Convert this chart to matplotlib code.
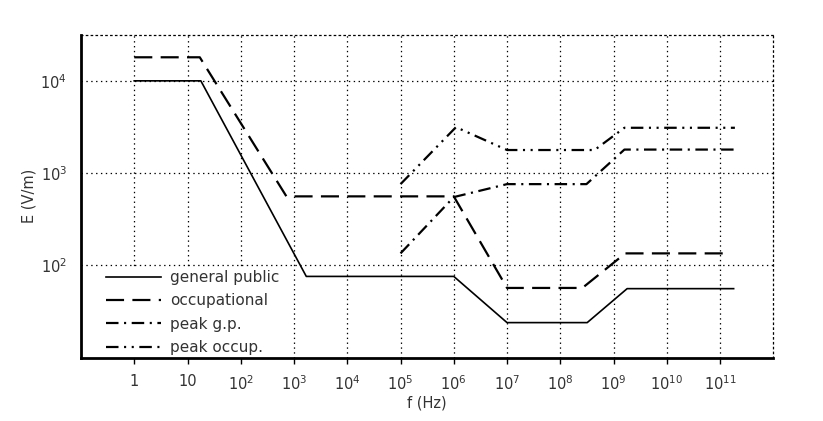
import matplotlib
matplotlib.use("Agg")
import matplotlib.pyplot as plt
from matplotlib.patches import Rectangle

plt.rcParams['font.family'] = ['DejaVu Sans']
plt.rcParams['mathtext.default'] = 'regular'
plt.rcParams['lines.scale_dashes'] = False

# Data (frequency in Hz, field strength in V/m)
f_gp = [1, 17.8, 1.7e3, 1e6, 1e7, 3.2e8, 1.8e9, 1.8e11]
E_gp = [1e4, 1e4, 76, 76, 24, 24, 56, 56]

f_occ = [1, 17, 7.2e2, 1e6, 1e7, 2.6e8, 1.66e9, 1.38e11]
E_occ = [1.8e4, 1.8e4, 560, 560, 57, 57, 135, 135]

f_pgp = [1e5, 1e6, 1e7, 3.1e8, 1.6e9, 1.9e11]
E_pgp = [135, 550, 760, 760, 1800, 1800]

f_pocc = [1e5, 1.1e6, 1e7, 4.4e8, 1.6e9, 1.9e11]
E_pocc = [760, 3150, 1780, 1780, 3100, 3100]

x_ticks = [1, 10, 1e2, 1e3, 1e4, 1e5, 1e6, 1e7, 1e8, 1e9, 1e10, 1e11]
x_labels = ['1', '10', '10$^{2}$', '10$^{3}$', '10$^{4}$', '10$^{5}$', '10$^{6}$',
            '10$^{7}$', '10$^{8}$', '10$^{9}$', '10$^{10}$', '10$^{11}$']
y_ticks = [1e2, 1e3, 1e4]
y_labels = ['10$^{2}$', '10$^{3}$', '10$^{4}$']

txt = '#333333'

fig = plt.figure(figsize=(8.23, 4.21), dpi=100)
ax = fig.add_axes([81/823, 1-357.7/421, (773.3-81)/823, (357.7-34.7)/421])
ax.set_xscale('log')
ax.set_yscale('log')
ax.set_xlim(0.1, 1e12)
ax.set_ylim(10, 10**4.5)

ax.plot(f_gp, E_gp, color='black', lw=1.2, label='general public', zorder=3)
ax.plot(f_occ, E_occ, color='black', lw=1.6, dashes=(13, 6), label='occupational', zorder=3)
ax.plot(f_pgp, E_pgp, color='black', lw=1.6, dashes=(9, 4, 1.5, 4), label='peak g.p.', zorder=3)
ax.plot(f_pocc, E_pocc, color='black', lw=1.6, dashes=(9, 4, 1.5, 4, 1.5, 4),
        label='peak occup.', zorder=3)

# white background behind legend (hides grid there)
ax.add_patch(Rectangle((0, 0), (290-81)/692.3, (357.7-267)/323.0,
                       transform=ax.transAxes, facecolor='white', edgecolor='none', zorder=1.8))

ax.set_xticks(x_ticks)
ax.set_xticklabels(x_labels)
ax.set_yticks(y_ticks)
ax.set_yticklabels(y_labels)
ax.minorticks_off()
ax.tick_params(axis='x', direction='out', length=4, width=1, pad=8, labelsize=10.5, labelcolor=txt)
ax.tick_params(axis='y', length=0, pad=10, labelsize=10.5, labelcolor=txt)

ax.grid(True, which='major', color='black', linestyle=(0, (1, 2.5)), linewidth=0.9)

for s in ['left', 'bottom']:
    ax.spines[s].set_linewidth(2)
for s in ['top', 'right']:
    ax.spines[s].set_linestyle((0, (1, 2.5)))
    ax.spines[s].set_linewidth(0.9)

ax.set_xlabel('f (Hz)', fontsize=10.5, color=txt, labelpad=2)
ax.set_ylabel('E (V/m)', fontsize=10.5, color=txt, labelpad=3)

leg = ax.legend(loc='lower left', bbox_to_anchor=(0.02, -0.025), frameon=False,
                fontsize=11, handlelength=3.6, handletextpad=0.6, labelspacing=0.55,
                borderaxespad=0.3)
leg.set_zorder(4)
for t in leg.get_texts():
    t.set_color(txt)

fig.savefig('out.png', dpi=100)
